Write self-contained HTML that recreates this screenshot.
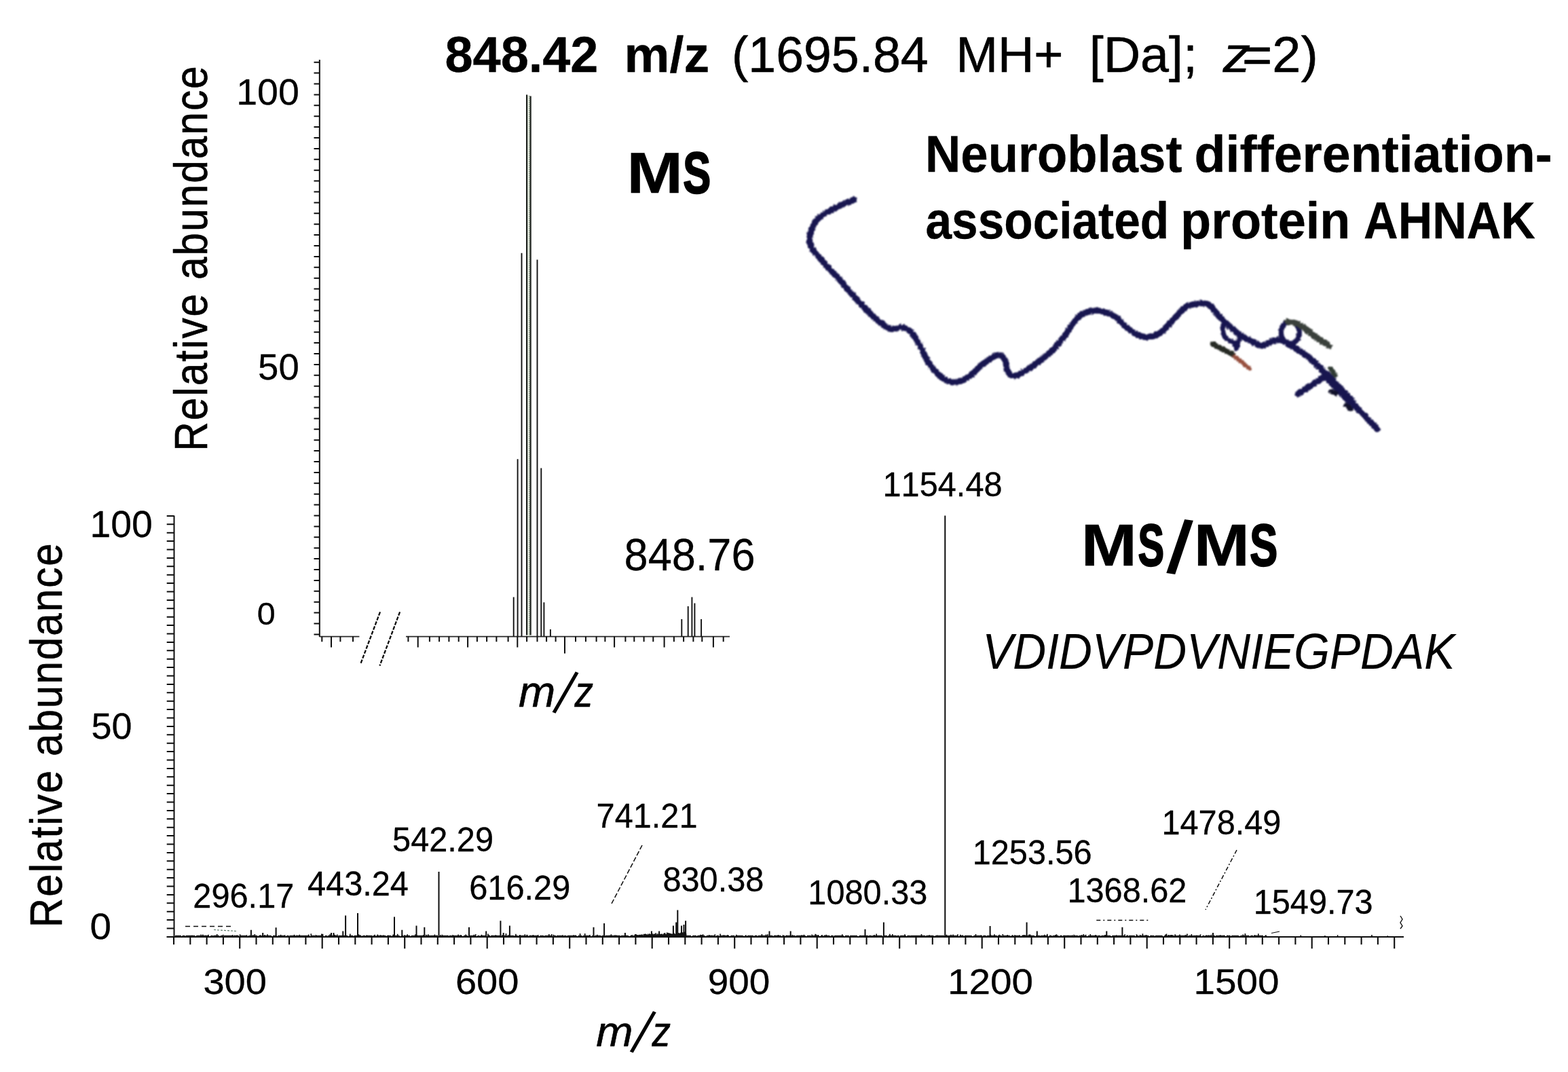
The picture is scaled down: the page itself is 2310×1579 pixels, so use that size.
<!DOCTYPE html>
<html lang="en">
<head>
<meta charset="utf-8">
<title>MS and MS/MS spectra of AHNAK peptide</title>
<style>
html,body{margin:0;padding:0;background:#fff;}
body{width:2310px;height:1579px;overflow:hidden;}
svg{display:block;}
svg text{font-family:"Liberation Sans", sans-serif;font-kerning:none;fill:#000;stroke:#000;stroke-linejoin:round;white-space:pre;}
</style>
</head>
<body>
<svg width="2310" height="1579" viewBox="0 0 2310 1579" role="img" aria-label="MS and MS/MS spectra of the AHNAK peptide VDIDVPDVNIEGPDAK">
<defs><filter id="soft" x="-5%" y="-5%" width="110%" height="110%" color-interpolation-filters="sRGB"><feTurbulence type="fractalNoise" baseFrequency="0.32" numOctaves="2" seed="7" result="n"/><feDisplacementMap in="SourceGraphic" in2="n" scale="4.5" xChannelSelector="R" yChannelSelector="G"/><feGaussianBlur stdDeviation="0.8"/></filter></defs>
<desc>848.42 m/z (1695.84 MH+ [Da]; z=2). MS inset: Relative abundance 100 50 0, m/z, 848.76. Neuroblast differentiation-associated protein AHNAK. MS/MS spectrum of VDIDVPDVNIEGPDAK: Relative abundance 100 50 0; m/z 300 600 900 1200 1500; peaks 296.17 443.24 542.29 616.29 741.21 830.38 1080.33 1154.48 1253.56 1368.62 1478.49 1549.73.</desc>
<rect width="2310" height="1579" fill="#fff"/>
<g class="ln" stroke="#0e0e0e" stroke-width="1.5" fill="none">
<path d="M470.8 88V938M462.5 91.7H470.8M462.5 107.6H470.8M462.5 123.5H470.8M462.5 139.4H470.8M462.5 155.3H470.8M462.5 171.2H470.8M462.5 187.1H470.8M462.5 203.0H470.8M462.5 218.9H470.8M462.5 234.8H470.8M462.5 250.7H470.8M462.5 266.6H470.8M462.5 282.5H470.8M462.5 298.4H470.8M462.5 314.3H470.8M462.5 330.2H470.8M462.5 346.1H470.8M462.5 362.0H470.8M462.5 377.9H470.8M462.5 393.8H470.8M462.5 409.7H470.8M462.5 425.6H470.8M462.5 441.5H470.8M462.5 457.4H470.8M462.5 473.3H470.8M462.5 489.2H470.8M462.5 505.1H470.8M462.5 521.0H470.8M462.5 536.9H470.8M462.5 552.8H470.8M462.5 568.7H470.8M462.5 584.6H470.8M462.5 600.5H470.8M462.5 616.4H470.8M462.5 632.3H470.8M462.5 648.2H470.8M462.5 664.1H470.8M462.5 680.0H470.8M462.5 695.9H470.8M462.5 711.8H470.8M462.5 727.7H470.8M462.5 743.6H470.8M462.5 759.5H470.8M462.5 775.4H470.8M462.5 791.3H470.8M462.5 807.2H470.8M462.5 823.1H470.8M462.5 839.0H470.8M462.5 854.9H470.8M462.5 870.8H470.8M462.5 886.7H470.8M462.5 902.6H470.8M462.5 918.5H470.8M462.5 934.4H470.8" stroke-width="2.00"/>
<path d="M470.7 937.6H529.4M598 937.6H1075" stroke-width="1.70" stroke="#2a2a2a"/>
<path d="M474.3 937.6V945.3M488.0 937.6V953.6M501.4 937.6V945.3M520.0 937.6V945.3M601.4 937.6V945.3M615.7 937.6V953.6M632.9 937.6V945.3M647.1 937.6V945.3M661.4 937.6V945.3M675.7 937.6V945.3M689.1 937.6V953.6M702.9 937.6V945.3M717.1 937.6V945.3M731.4 937.6V945.3M748.6 937.6V945.3M762.3 937.6V953.6M776.1 937.6V945.3M791.5 937.6V945.3M805.1 937.6V945.3M818.6 937.6V945.3M832.0 937.6V962.6M848.0 937.6V945.3M862.9 937.6V945.3M878.6 937.6V945.3M891.4 937.6V945.3M905.1 937.6V953.6M921.4 937.6V945.3M934.3 937.6V945.3M948.6 937.6V945.3M962.3 937.6V945.3M978.6 937.6V953.6M992.9 937.6V945.3M1007.1 937.6V945.3M1021.4 937.6V945.3M1034.3 937.6V945.3M1050.9 937.6V953.6M1065.7 937.6V945.3" stroke-width="2.00"/>
<path d="M560 901.4L530.9 978.6M589.1 901.4L559.4 980.6" stroke-width="2.30" stroke-dasharray="5.5 2"/>
<path d="M756.7 937.6V879.5M762.6 937.6V676.3M768.5 937.6V372.8M791.5 937.6V382.6M797.3 937.6V689.5M801.4 937.6V887.2M810.9 937.6V927.1M1004.3 937.6V912.0M1013.7 937.6V892.9M1019.4 937.6V879.4M1023.4 937.6V888.6M1033.1 937.6V912.0" stroke-width="1.90" stroke="#111"/>
<rect x="777" y="141" width="4" height="796" fill="#e9f0e4" stroke="none"/>
<path d="M779.6 937.6V141" stroke-width="1.20" stroke="#8fa08c" stroke-dasharray="1.5 1.5"/>
<path d="M776.1 935.6V139.5M781.6 935.6V141.5" stroke-width="2.20" stroke="#1c201c"/>
<path d="M256.5 759.5V1380.0M245.7 759.9H256.5M245.7 772.3H256.5M245.7 784.7H256.5M245.7 797.1H256.5M245.7 809.5H256.5M245.7 821.9H256.5M245.7 834.3H256.5M245.7 846.7H256.5M245.7 859.1H256.5M245.7 871.5H256.5M245.7 883.9H256.5M245.7 896.3H256.5M245.7 908.7H256.5M245.7 921.1H256.5M245.7 933.5H256.5M245.7 945.9H256.5M245.7 958.3H256.5M245.7 970.7H256.5M245.7 983.1H256.5M245.7 995.5H256.5M245.7 1007.9H256.5M245.7 1020.3H256.5M245.7 1032.7H256.5M245.7 1045.1H256.5M245.7 1057.5H256.5M245.7 1069.9H256.5M245.7 1082.3H256.5M245.7 1094.7H256.5M245.7 1107.1H256.5M245.7 1119.5H256.5M245.7 1131.9H256.5M245.7 1144.3H256.5M245.7 1156.7H256.5M245.7 1169.1H256.5M245.7 1181.5H256.5M245.7 1193.9H256.5M245.7 1206.3H256.5M245.7 1218.7H256.5M245.7 1231.1H256.5M245.7 1243.5H256.5M245.7 1255.9H256.5M245.7 1268.3H256.5M245.7 1280.7H256.5M245.7 1293.1H256.5M245.7 1305.5H256.5M245.7 1317.9H256.5M245.7 1330.3H256.5M245.7 1342.7H256.5M245.7 1355.1H256.5M245.7 1367.5H256.5M245.7 1379.9H256.5" stroke-width="2.00"/>
<path d="M245.7 1380.0H2068M256.0 1380.0V1391.3M280.3 1380.0V1391.3M304.6 1380.0V1391.3M328.9 1380.0V1391.3M353.2 1380.0V1397.2M377.5 1380.0V1391.3M401.8 1380.0V1391.3M426.1 1380.0V1391.3M450.4 1380.0V1391.3M474.7 1380.0V1397.2M499.0 1380.0V1391.3M523.3 1380.0V1391.3M547.6 1380.0V1391.3M571.9 1380.0V1391.3M596.2 1380.0V1397.2M620.5 1380.0V1391.3M644.8 1380.0V1391.3M669.1 1380.0V1391.3M693.4 1380.0V1391.3M717.7 1380.0V1397.2M742.0 1380.0V1391.3M766.3 1380.0V1391.3M790.6 1380.0V1391.3M814.9 1380.0V1391.3M839.2 1380.0V1397.2M863.5 1380.0V1391.3M887.8 1380.0V1391.3M912.1 1380.0V1391.3M936.4 1380.0V1391.3M960.7 1380.0V1397.2M985.0 1380.0V1391.3M1009.3 1380.0V1391.3M1033.6 1380.0V1391.3M1057.9 1380.0V1391.3M1082.2 1380.0V1397.2M1106.5 1380.0V1391.3M1130.8 1380.0V1391.3M1155.1 1380.0V1391.3M1179.4 1380.0V1391.3M1203.7 1380.0V1397.2M1228.0 1380.0V1391.3M1252.3 1380.0V1391.3M1276.6 1380.0V1391.3M1300.9 1380.0V1391.3M1325.2 1380.0V1397.2M1349.5 1380.0V1391.3M1373.8 1380.0V1391.3M1398.1 1380.0V1391.3M1422.4 1380.0V1391.3M1446.7 1380.0V1397.2M1471.0 1380.0V1391.3M1495.3 1380.0V1391.3M1519.6 1380.0V1391.3M1543.9 1380.0V1391.3M1568.2 1380.0V1397.2M1592.5 1380.0V1391.3M1616.8 1380.0V1391.3M1641.1 1380.0V1391.3M1665.4 1380.0V1391.3M1689.7 1380.0V1397.2M1714.0 1380.0V1391.3M1738.3 1380.0V1391.3M1762.6 1380.0V1391.3M1786.9 1380.0V1391.3M1811.2 1380.0V1397.2M1835.5 1380.0V1391.3M1859.8 1380.0V1391.3M1884.1 1380.0V1391.3M1908.4 1380.0V1391.3M1932.7 1380.0V1397.2M1957.0 1380.0V1391.3M1981.3 1380.0V1391.3M2005.6 1380.0V1391.3M2029.9 1380.0V1391.3M2054.2 1380.0V1397.2" stroke-width="2.10"/>
<path d="M258 1378.5H1866" stroke-width="1.60" stroke="#111" stroke-dasharray="9 1.5 4 1 14 2 6 1.2 11 2.5 3 1"/>
<path d="M369.9 1380.0V1369.7M387.2 1380.0V1374.0M406.6 1380.0V1366.2M488.0 1380.0V1374.0M491.5 1380.0V1374.0M505.3 1380.0V1371.4M509.1 1380.0V1348.5M527.0 1380.0V1345.0M581.0 1380.0V1350.6M592.3 1380.0V1369.7M613.5 1380.0V1363.6M625.3 1380.0V1365.8M646.5 1380.0V1284.0M691.0 1380.0V1365.8M716.2 1380.0V1371.4M737.4 1380.0V1356.3M741.7 1380.0V1374.0M750.9 1380.0V1363.6M874.5 1380.0V1365.8M890.1 1380.0V1360.1M920.9 1380.0V1374.0M959.9 1380.0V1371.4M971.1 1380.0V1371.4M991.9 1380.0V1363.6M996.2 1380.0V1358.4M998.3 1380.0V1340.6M1004.0 1380.0V1363.6M1007.5 1380.0V1361.9M1010.1 1380.0V1356.3M1133.5 1380.0V1371.4M1164.7 1380.0V1371.4M1274.5 1380.0V1368.8M1301.9 1380.0V1358.4M1392.3 1380.0V759.5M1458.6 1380.0V1364.1M1512.6 1380.0V1358.4M1527.8 1380.0V1371.4M1630.3 1380.0V1371.4M1653.4 1380.0V1365.8M1787.0 1380.0V1374.0" stroke-width="2.00" stroke="#0c0c0c"/>
<path d="M260.3 1380.0v-1.2M263.0 1380.0v-1.2M270.3 1380.0v-1.8M275.9 1380.0v-1.2M279.9 1380.0v-2.0M282.9 1380.0v-2.2M289.7 1380.0v-1.9M296.1 1380.0v-3.5M298.8 1380.0v-3.5M300.8 1380.0v-1.4M302.8 1380.0v-2.2M306.9 1380.0v-3.3M313.1 1380.0v-2.0M317.4 1380.0v-2.3M319.7 1380.0v-4.0M328.7 1380.0v-3.3M331.2 1380.0v-1.8M333.9 1380.0v-1.4M336.7 1380.0v-2.0M338.4 1380.0v-1.6M342.6 1380.0v-2.9M345.3 1380.0v-2.6M349.2 1380.0v-2.4M353.6 1380.0v-3.8M355.3 1380.0v-1.0M361.8 1380.0v-1.9M363.5 1380.0v-2.7M365.8 1380.0v-1.4M372.8 1380.0v-2.8M375.3 1380.0v-4.1M383.7 1380.0v-2.7M385.1 1380.0v-1.8M386.8 1380.0v-2.7M390.0 1380.0v-3.0M394.0 1380.0v-3.8M396.2 1380.0v-1.0M398.5 1380.0v-2.1M406.4 1380.0v-2.0M413.6 1380.0v-3.2M416.0 1380.0v-1.7M419.7 1380.0v-2.8M423.0 1380.0v-2.0M426.9 1380.0v-1.4M433.5 1380.0v-3.3M437.0 1380.0v-2.5M441.3 1380.0v-3.2M443.7 1380.0v-1.3M446.4 1380.0v-2.1M454.6 1380.0v-3.5M458.3 1380.0v-4.7M460.9 1380.0v-1.9M465.3 1380.0v-2.9M470.7 1380.0v-0.9M473.8 1380.0v-4.5M475.5 1380.0v-4.2M477.9 1380.0v-0.9M486.0 1380.0v-3.8M487.8 1380.0v-1.2M489.7 1380.0v-2.0M492.0 1380.0v-3.6M493.4 1380.0v-3.1M496.8 1380.0v-3.5M500.9 1380.0v-1.3M509.3 1380.0v-1.3M515.8 1380.0v-4.5M525.7 1380.0v-1.9M528.4 1380.0v-3.8M530.4 1380.0v-2.7M534.6 1380.0v-2.0M538.5 1380.0v-1.6M540.4 1380.0v-2.5M544.5 1380.0v-1.6M547.9 1380.0v-2.0M552.0 1380.0v-3.2M556.3 1380.0v-3.6M558.1 1380.0v-1.4M560.7 1380.0v-2.7M562.5 1380.0v-1.9M564.9 1380.0v-2.6M570.5 1380.0v-2.1M571.9 1380.0v-2.2M573.5 1380.0v-1.8M577.6 1380.0v-1.1M579.3 1380.0v-3.6M582.7 1380.0v-2.0M585.7 1380.0v-4.3M591.7 1380.0v-1.3M595.7 1380.0v-2.7M600.2 1380.0v-3.7M602.3 1380.0v-0.9M607.9 1380.0v-1.1M610.1 1380.0v-2.2M612.0 1380.0v-3.8M613.8 1380.0v-3.0M621.9 1380.0v-1.7M623.9 1380.0v-2.9M627.8 1380.0v-3.2M630.8 1380.0v-3.8M633.0 1380.0v-2.2M635.4 1380.0v-1.2M639.0 1380.0v-2.0M640.4 1380.0v-3.6M643.8 1380.0v-2.2M649.0 1380.0v-2.7M651.4 1380.0v-3.3M654.4 1380.0v-1.2M658.5 1380.0v-1.6M659.7 1380.0v-2.2M661.8 1380.0v-1.4M667.1 1380.0v-3.1M669.6 1380.0v-1.9M671.5 1380.0v-1.4M675.1 1380.0v-3.4M678.7 1380.0v-3.0M682.3 1380.0v-0.9M686.2 1380.0v-3.4M690.1 1380.0v-1.6M696.9 1380.0v-1.3M698.3 1380.0v-3.2M700.7 1380.0v-4.0M704.0 1380.0v-1.7M709.5 1380.0v-3.3M710.9 1380.0v-1.8M714.6 1380.0v-1.9M719.0 1380.0v-4.6M720.5 1380.0v-2.5M723.7 1380.0v-1.3M725.4 1380.0v-2.3M728.9 1380.0v-0.9M730.3 1380.0v-2.7M731.8 1380.0v-1.9M734.0 1380.0v-2.1M739.7 1380.0v-2.7M745.5 1380.0v-4.9M747.9 1380.0v-1.3M749.4 1380.0v-2.7M751.1 1380.0v-2.6M754.6 1380.0v-1.7M758.7 1380.0v-2.1M759.9 1380.0v-4.2M762.4 1380.0v-1.2M766.1 1380.0v-3.1M767.7 1380.0v-1.9M771.9 1380.0v-1.8M773.3 1380.0v-3.8M776.4 1380.0v-3.2M781.5 1380.0v-2.3M783.2 1380.0v-2.0M785.4 1380.0v-3.0M791.3 1380.0v-1.9M792.7 1380.0v-2.9M796.4 1380.0v-2.1M800.6 1380.0v-1.0M803.1 1380.0v-1.9M806.8 1380.0v-2.0M808.8 1380.0v-4.0M811.3 1380.0v-1.4M812.7 1380.0v-3.9M815.4 1380.0v-3.3M818.1 1380.0v-1.3M820.1 1380.0v-1.2M821.6 1380.0v-1.6M825.5 1380.0v-2.1M829.1 1380.0v-2.8M832.8 1380.0v-1.6M838.2 1380.0v-2.0M841.1 1380.0v-1.3M845.2 1380.0v-2.8M847.9 1380.0v-2.6M854.6 1380.0v-4.9M861.7 1380.0v-4.9M869.0 1380.0v-2.9M876.9 1380.0v-1.4M879.8 1380.0v-3.3M885.7 1380.0v-1.6M889.9 1380.0v-3.3M892.1 1380.0v-1.7M894.1 1380.0v-1.2M896.6 1380.0v-1.6M898.5 1380.0v-2.2M900.4 1380.0v-3.7M906.0 1380.0v-2.8M907.8 1380.0v-2.4M910.7 1380.0v-1.7M912.5 1380.0v-1.4M914.5 1380.0v-1.6M917.7 1380.0v-1.6M922.2 1380.0v-2.2M923.5 1380.0v-1.2M927.0 1380.0v-1.2M931.2 1380.0v-2.9M935.7 1380.0v-3.9M936.6 1380.0v-4.0M937.5 1380.0v-3.5M938.6 1380.0v-2.9M939.4 1380.0v-2.8M940.9 1380.0v-2.8M941.9 1380.0v-3.2M943.3 1380.0v-3.1M944.5 1380.0v-3.4M945.5 1380.0v-3.4M946.3 1380.0v-3.5M947.7 1380.0v-2.5M948.6 1380.0v-4.2M950.0 1380.0v-4.3M951.0 1380.0v-4.6M952.0 1380.0v-4.0M953.0 1380.0v-3.1M954.5 1380.0v-4.5M955.4 1380.0v-3.4M956.9 1380.0v-4.7M957.9 1380.0v-3.9M959.5 1380.0v-3.8M960.9 1380.0v-5.0M962.1 1380.0v-3.6M963.2 1380.0v-4.2M964.2 1380.0v-4.4M965.0 1380.0v-3.5M966.1 1380.0v-5.7M967.7 1380.0v-3.4M968.6 1380.0v-4.7M969.7 1380.0v-3.8M971.0 1380.0v-5.2M972.5 1380.0v-4.3M974.0 1380.0v-4.3M975.1 1380.0v-4.6M976.1 1380.0v-3.6M977.6 1380.0v-4.6M978.7 1380.0v-5.7M979.7 1380.0v-5.7M981.3 1380.0v-4.1M982.7 1380.0v-6.4M983.6 1380.0v-3.8M984.5 1380.0v-6.0M986.1 1380.0v-5.6M987.2 1380.0v-5.3M988.8 1380.0v-4.7M990.1 1380.0v-4.4M991.0 1380.0v-4.2M992.3 1380.0v-4.9M993.1 1380.0v-5.5M994.0 1380.0v-4.3M995.5 1380.0v-4.4M996.3 1380.0v-5.4M997.7 1380.0v-3.9M999.0 1380.0v-4.8M1000.1 1380.0v-5.9M1001.3 1380.0v-5.2M1002.8 1380.0v-6.2M1003.8 1380.0v-5.3M1004.6 1380.0v-6.3M1006.0 1380.0v-6.8M1007.2 1380.0v-3.8M1008.4 1380.0v-7.4M1009.3 1380.0v-5.8M1010.5 1380.0v-4.7M1014.5 1380.0v-1.5M1027.8 1380.0v-1.4M1031.9 1380.0v-3.2M1033.7 1380.0v-3.1M1035.6 1380.0v-3.7M1037.4 1380.0v-2.0M1039.4 1380.0v-1.2M1044.7 1380.0v-3.1M1047.7 1380.0v-2.3M1049.9 1380.0v-1.6M1053.3 1380.0v-3.8M1057.9 1380.0v-1.6M1061.1 1380.0v-4.6M1065.0 1380.0v-2.3M1066.6 1380.0v-2.7M1072.1 1380.0v-3.0M1079.2 1380.0v-0.9M1085.0 1380.0v-3.3M1088.9 1380.0v-1.4M1092.5 1380.0v-1.3M1094.8 1380.0v-1.7M1099.0 1380.0v-2.6M1101.7 1380.0v-2.1M1105.9 1380.0v-1.8M1109.2 1380.0v-1.5M1110.5 1380.0v-1.2M1113.8 1380.0v-2.3M1117.9 1380.0v-1.5M1122.4 1380.0v-3.9M1128.5 1380.0v-3.4M1130.9 1380.0v-3.8M1134.0 1380.0v-2.3M1135.5 1380.0v-1.4M1142.0 1380.0v-2.3M1146.5 1380.0v-2.9M1150.2 1380.0v-1.3M1153.4 1380.0v-2.8M1158.9 1380.0v-2.3M1161.9 1380.0v-1.6M1164.1 1380.0v-1.1M1167.3 1380.0v-3.1M1168.6 1380.0v-1.9M1175.3 1380.0v-2.0M1181.3 1380.0v-2.7M1184.4 1380.0v-3.3M1189.9 1380.0v-1.1M1194.3 1380.0v-1.3M1196.2 1380.0v-3.5M1197.9 1380.0v-1.6M1201.2 1380.0v-4.3M1202.4 1380.0v-3.4M1205.2 1380.0v-3.1M1209.6 1380.0v-1.8M1211.0 1380.0v-3.1M1215.2 1380.0v-2.4M1217.3 1380.0v-3.3M1221.5 1380.0v-1.9M1225.8 1380.0v-1.3M1228.7 1380.0v-1.1M1230.7 1380.0v-2.1M1234.3 1380.0v-2.1M1236.8 1380.0v-1.6M1240.8 1380.0v-3.8M1246.4 1380.0v-1.8M1248.6 1380.0v-1.6M1251.7 1380.0v-1.0M1254.8 1380.0v-1.4M1256.1 1380.0v-1.4M1260.8 1380.0v-2.1M1268.8 1380.0v-2.3M1278.3 1380.0v-2.1M1280.0 1380.0v-1.5M1282.3 1380.0v-1.5M1284.3 1380.0v-1.6M1288.0 1380.0v-3.0M1291.2 1380.0v-4.6M1299.3 1380.0v-1.9M1303.2 1380.0v-1.7M1304.4 1380.0v-1.5M1310.9 1380.0v-4.3M1314.8 1380.0v-4.0M1319.2 1380.0v-2.2M1320.9 1380.0v-2.1M1322.9 1380.0v-1.0M1333.0 1380.0v-3.7M1340.5 1380.0v-2.1M1342.6 1380.0v-1.2M1346.7 1380.0v-2.1M1350.6 1380.0v-1.6M1353.3 1380.0v-2.1M1355.9 1380.0v-2.2M1357.5 1380.0v-4.1M1361.0 1380.0v-1.5M1364.7 1380.0v-1.4M1369.1 1380.0v-2.7M1371.5 1380.0v-1.5M1376.7 1380.0v-1.6M1381.1 1380.0v-2.4M1383.8 1380.0v-1.3M1388.0 1380.0v-1.8M1394.5 1380.0v-3.3M1397.3 1380.0v-2.1M1399.0 1380.0v-2.1M1401.0 1380.0v-3.3M1404.1 1380.0v-3.6M1407.5 1380.0v-1.9M1410.9 1380.0v-3.7M1414.9 1380.0v-3.3M1418.2 1380.0v-2.6M1423.5 1380.0v-1.6M1431.6 1380.0v-1.4M1436.0 1380.0v-1.7M1437.5 1380.0v-3.9M1445.0 1380.0v-2.4M1449.3 1380.0v-2.2M1459.4 1380.0v-3.2M1462.8 1380.0v-1.6M1465.0 1380.0v-3.7M1468.0 1380.0v-2.2M1472.3 1380.0v-3.2M1477.3 1380.0v-4.1M1480.8 1380.0v-1.2M1484.2 1380.0v-2.9M1486.3 1380.0v-1.5M1489.1 1380.0v-1.5M1491.5 1380.0v-2.7M1495.0 1380.0v-2.7M1498.5 1380.0v-1.9M1501.9 1380.0v-2.5M1506.9 1380.0v-2.6M1508.3 1380.0v-3.0M1510.0 1380.0v-2.7M1512.6 1380.0v-1.8M1514.2 1380.0v-1.5M1516.0 1380.0v-3.5M1517.7 1380.0v-3.5M1523.6 1380.0v-1.7M1531.8 1380.0v-2.0M1538.8 1380.0v-3.3M1542.8 1380.0v-4.2M1546.7 1380.0v-2.4M1555.0 1380.0v-3.0M1556.5 1380.0v-3.8M1563.2 1380.0v-1.2M1567.3 1380.0v-2.3M1571.0 1380.0v-1.5M1573.4 1380.0v-2.2M1577.3 1380.0v-1.9M1580.1 1380.0v-2.6M1582.2 1380.0v-3.3M1587.8 1380.0v-1.7M1593.6 1380.0v-3.1M1594.9 1380.0v-1.6M1596.3 1380.0v-4.1M1599.6 1380.0v-3.2M1606.3 1380.0v-4.1M1608.1 1380.0v-1.6M1614.0 1380.0v-3.1M1615.7 1380.0v-2.2M1617.8 1380.0v-1.7M1627.9 1380.0v-2.9M1629.1 1380.0v-3.1M1633.6 1380.0v-1.3M1638.9 1380.0v-1.4M1644.8 1380.0v-2.7M1648.3 1380.0v-1.7M1655.6 1380.0v-1.4M1657.1 1380.0v-3.7M1661.4 1380.0v-2.6M1666.3 1380.0v-1.6M1674.5 1380.0v-3.8M1679.6 1380.0v-2.9M1683.4 1380.0v-4.8M1687.2 1380.0v-2.2M1688.6 1380.0v-3.1M1695.4 1380.0v-2.2M1699.8 1380.0v-1.6M1703.2 1380.0v-2.0M1707.5 1380.0v-1.3M1713.0 1380.0v-1.1M1717.0 1380.0v-3.5M1718.5 1380.0v-4.5M1720.4 1380.0v-1.5M1721.8 1380.0v-2.9M1723.6 1380.0v-2.2M1724.9 1380.0v-2.9M1726.4 1380.0v-3.0M1728.3 1380.0v-2.6M1731.2 1380.0v-3.8M1733.1 1380.0v-1.4M1734.9 1380.0v-2.0M1738.0 1380.0v-3.5M1742.0 1380.0v-1.2M1746.5 1380.0v-3.1M1748.9 1380.0v-4.5M1755.4 1380.0v-4.0M1757.3 1380.0v-2.0M1761.7 1380.0v-1.1M1763.0 1380.0v-2.2M1768.5 1380.0v-3.8M1777.3 1380.0v-2.6M1780.6 1380.0v-2.4M1784.6 1380.0v-3.2M1789.1 1380.0v-1.4M1793.4 1380.0v-1.9M1797.7 1380.0v-2.8M1802.9 1380.0v-2.2M1807.9 1380.0v-2.3M1810.7 1380.0v-1.2M1826.8 1380.0v-1.5M1831.2 1380.0v-3.6M1834.4 1380.0v-4.9M1836.7 1380.0v-1.7M1840.0 1380.0v-1.1M1843.6 1380.0v-1.4M1846.6 1380.0v-1.2M1848.3 1380.0v-2.8M1850.0 1380.0v-2.2M1852.2 1380.0v-1.1M1853.8 1380.0v-4.7M1859.2 1380.0v-1.8M1865.0 1380.0v-2.4M1916.3 1380.0v-2.5M1951.9 1380.0v-2.0M1970.6 1380.0v-2.7M2021.0 1380.0v-3.0M2044.3 1380.0v-1.7" stroke-width="1.70" stroke="#111"/>
<path d="M946 1245L901 1331" stroke-dasharray="7 3"/>
<path d="M1822 1252L1776 1340" stroke-dasharray="6 3 2 3"/>
<path d="M1615.3 1355.5H1695" stroke-width="1.30" stroke-dasharray="6 4 2 4"/>
<path d="M273 1364.5H341" stroke-width="1.30" stroke-dasharray="7 5"/>
<path d="M315 1369.5L348 1371.5" stroke-width="1.20" stroke="#5d7a6a" stroke-dasharray="3 2"/>
<path d="M1873 1374.5L1885 1372" stroke-width="1.20"/>
<path d="M2063 1349l3 5l-3 5l3 5l-3 4" stroke-width="1.40"/>
</g>
<g class="protein" filter="url(#soft)">
<path d="M1258.5 293.8C1252.9 296.3 1234.2 303.9 1225.0 309.0C1215.8 314.1 1208.5 318.0 1203.3 324.1C1198.0 330.2 1195.0 339.3 1193.5 345.8C1192.0 352.3 1191.9 356.9 1194.6 363.0C1197.3 369.1 1202.9 374.7 1209.8 382.6C1216.7 390.6 1226.8 400.6 1235.8 410.7C1244.8 420.8 1254.9 433.5 1263.9 443.2C1272.9 452.9 1282.0 462.2 1289.9 469.1C1297.8 476.0 1305.0 482.1 1311.5 484.3C1318.0 486.5 1323.4 481.0 1328.8 482.1C1334.2 483.2 1339.3 485.8 1344.0 490.8C1348.7 495.9 1353.0 505.2 1357.0 512.4C1361.0 519.6 1362.8 526.9 1367.8 534.1C1372.8 541.3 1381.2 550.8 1387.3 555.7C1393.4 560.6 1398.1 563.3 1404.6 563.3C1411.1 563.3 1419.0 560.2 1426.2 555.7C1433.4 551.2 1440.7 541.6 1447.9 536.2C1455.1 530.8 1464.1 524.3 1469.5 523.2C1474.9 522.1 1477.8 525.7 1480.3 529.7C1482.8 533.7 1482.2 543.0 1484.7 547.0C1487.2 551.0 1489.7 554.6 1495.5 553.5C1501.3 552.4 1510.3 546.7 1519.3 540.6C1528.3 534.5 1540.9 525.1 1549.6 516.8C1558.3 508.5 1564.8 499.1 1571.3 490.8C1577.8 482.5 1582.8 472.4 1588.6 467.0C1594.4 461.6 1600.1 459.8 1605.9 458.3C1611.7 456.9 1617.0 456.8 1623.2 458.3C1629.4 459.8 1636.3 462.4 1643.3 467.1C1650.2 471.8 1657.7 481.7 1664.9 486.6C1672.1 491.5 1679.4 495.6 1686.6 496.3C1693.8 497.0 1701.0 495.4 1708.2 490.9C1715.4 486.4 1723.4 475.8 1729.9 469.3C1736.4 462.8 1742.2 455.4 1747.2 451.9C1752.2 448.4 1756.0 449.0 1760.0 448.1C1764.0 447.2 1767.6 446.6 1771.1 446.7C1774.6 446.8 1777.7 446.7 1780.9 448.8C1784.2 450.9 1787.1 455.4 1790.6 459.2C1794.1 463.0 1797.6 467.6 1801.8 471.8C1806.0 476.0 1811.1 480.4 1815.7 484.3C1820.3 488.2 1824.9 492.5 1829.6 495.5C1834.2 498.5 1838.9 500.1 1843.6 502.4C1848.2 504.7 1853.3 508.9 1857.5 509.4C1861.7 509.9 1864.9 506.6 1868.6 505.2C1872.3 503.8 1876.1 501.5 1879.8 501.0C1883.5 500.5 1886.7 500.8 1890.9 502.4C1895.1 504.0 1899.9 507.8 1904.8 510.8C1909.7 513.8 1915.3 517.0 1920.2 520.5C1925.1 524.0 1929.9 528.0 1934.1 531.7C1938.3 535.4 1941.2 538.9 1945.2 542.8C1949.2 546.7 1953.8 550.9 1957.8 555.3C1961.8 559.7 1964.7 564.6 1968.9 569.3C1973.1 573.9 1978.2 578.3 1982.9 583.2C1987.6 588.1 1992.2 593.6 1996.8 598.5C2001.4 603.4 2005.4 606.9 2010.7 612.5C2016.0 618.1 2025.8 628.8 2028.8 632.0" stroke="#17154f" stroke-width="9" fill="none" stroke-linecap="round" stroke-linejoin="round"/>
<path d="M1803.2 474.6C1800.5 482 1800.8 490 1804.6 496.9L1823 509M1826.9 492.7L1821.3 513.6" stroke="#17154f" stroke-width="7" fill="none" stroke-linecap="round" stroke-linejoin="round"/>
<path d="M1786.5 506.6L1815.7 521.9" stroke="#262a24" stroke-width="7.5" fill="none" stroke-linecap="round"/>
<path d="M1818.5 524.7L1840.8 542.8" stroke="#97503f" stroke-width="6" fill="none" stroke-linecap="round"/>
<ellipse cx="1900.7" cy="489.9" rx="13.5" ry="16" stroke="#17154f" stroke-width="7.5" fill="none"/>
<path d="M1897 473.5C1912 475 1922 482 1930 490C1940 498 1950 504 1958 509.4" stroke="#3a403b" stroke-width="9" fill="none" stroke-linecap="round"/>
<path d="M1911.8 580.4L1955 552.6" stroke="#17154f" stroke-width="9" fill="none" stroke-linecap="round"/>
<path d="M1960 543L1967 553" stroke="#2f3a33" stroke-width="7" fill="none" stroke-linecap="round"/>
<path d="M1953 552L1970 570L1990 591" stroke="#17154f" stroke-width="13" fill="none" stroke-linecap="round" stroke-linejoin="round"/>
<path d="M1961 576L1968 580M1983 597L1990 602" stroke="#11112a" stroke-width="7" fill="none" stroke-linecap="round"/>
</g>
<g class="labels">
<text transform="matrix(0.3694 0 0.0000 0.3718 655.48 106.36)" font-size="200" font-weight="bold" stroke-width="0.94">848.42</text>
<text transform="matrix(0.3770 0 0.0000 0.3718 919.40 106.36)" font-size="200" font-weight="bold" stroke-width="0.93">m/z</text>
<text transform="matrix(0.3671 0 0.0000 0.3718 1077.89 106.36)" font-size="200" stroke-width="1.62">(1695.84</text>
<text transform="matrix(0.3697 0 0.0000 0.3718 1408.39 106.36)" font-size="200" stroke-width="1.62">MH+</text>
<text transform="matrix(0.3769 0 0.0000 0.3718 1604.72 106.36)" font-size="200" stroke-width="1.60">[Da];</text>
<text transform="matrix(0.3718 0 0 0.3718 0 106.36)" font-size="200" stroke-width="1.61"><tspan x="4845.8" y="0" textLength="108.7" lengthAdjust="spacingAndGlyphs" font-style="italic">z</tspan><tspan x="4922.2" y="0" textLength="300.1" lengthAdjust="spacingAndGlyphs">=2)</tspan></text>
<text transform="matrix(0.2778 0 0.0000 0.2648 348.13 153.67)" font-size="200" stroke-width="1.11">100</text>
<text transform="matrix(0.2725 0 0.0000 0.2704 380.12 558.76)" font-size="200" stroke-width="1.11">50</text>
<text transform="matrix(0.2421 0 0.0000 0.2296 378.86 919.84)" font-size="200" stroke-width="1.27">0</text>
<text transform="matrix(0.3155 0 0.0000 0.3331 919.56 840.23)" font-size="200" stroke-width="0.77">848.76</text>
<text transform="matrix(0.3264 0 0 0.3264 0 1041.30)" font-size="200" stroke-width="1.84"><tspan x="2340.6" y="0" textLength="166.1" lengthAdjust="spacingAndGlyphs" font-style="italic">m</tspan><tspan x="2504.0" y="24.3" font-size="298.1" stroke-width="0" rotate="16" textLength="54.7" lengthAdjust="spacingAndGlyphs" font-style="italic">/</tspan><tspan x="2593.6" y="0" textLength="84.4" lengthAdjust="spacingAndGlyphs" font-style="italic">z</tspan></text>
<text transform="matrix(0 -0.3020 0.3381 0 304.72 664.83)" font-size="200" letter-spacing="6.54" stroke-width="1.88">Relative abundance</text>
<text transform="matrix(0.2768 0 0.0000 0.2761 132.45 790.75)" font-size="200" stroke-width="1.09">100</text>
<text transform="matrix(0.2696 0 0.0000 0.2697 134.44 1087.96)" font-size="200" stroke-width="1.11">50</text>
<text transform="matrix(0.2832 0 0.0000 0.2711 132.53 1383.36)" font-size="200" stroke-width="1.08">0</text>
<text transform="matrix(0.2802 0 0.0000 0.2613 299.46 1464.28)" font-size="200" stroke-width="1.11">300</text>
<text transform="matrix(0.2804 0 0.0000 0.2613 670.90 1464.28)" font-size="200" stroke-width="1.11">600</text>
<text transform="matrix(0.2748 0 0.0000 0.2613 1042.73 1464.28)" font-size="200" stroke-width="1.12">900</text>
<text transform="matrix(0.2834 0 0.0000 0.2613 1395.95 1464.28)" font-size="200" stroke-width="1.10">1200</text>
<text transform="matrix(0.2834 0 0.0000 0.2613 1758.45 1464.28)" font-size="200" stroke-width="1.10">1500</text>
<text transform="matrix(0.3160 0 0 0.3160 0 1541.40)" font-size="200" stroke-width="1.90"><tspan x="2779.4" y="0" textLength="171.9" lengthAdjust="spacingAndGlyphs" font-style="italic">m</tspan><tspan x="2947.7" y="24.8" font-size="307.9" stroke-width="0" rotate="16" textLength="56.5" lengthAdjust="spacingAndGlyphs" font-style="italic">/</tspan><tspan x="3039.7" y="0" textLength="87.2" lengthAdjust="spacingAndGlyphs" font-style="italic">z</tspan></text>
<text transform="matrix(0 -0.3013 0.3347 0 91.33 1366.22)" font-size="200" letter-spacing="6.54" stroke-width="1.89">Relative abundance</text>
<text transform="matrix(0.2435 0 0.0000 0.2484 284.37 1337.10)" font-size="200" stroke-width="1.22">296.17</text>
<text transform="matrix(0.2435 0 0.0000 0.2484 452.98 1318.60)" font-size="200" stroke-width="1.22">443.24</text>
<text transform="matrix(0.2435 0 0.0000 0.2484 578.05 1254.00)" font-size="200" stroke-width="1.22">542.29</text>
<text transform="matrix(0.2435 0 0.0000 0.2484 691.27 1325.00)" font-size="200" stroke-width="1.22">616.29</text>
<text transform="matrix(0.2435 0 0.0000 0.2484 878.57 1218.50)" font-size="200" stroke-width="1.22">741.21</text>
<text transform="matrix(0.2435 0 0.0000 0.2484 976.41 1312.50)" font-size="200" stroke-width="1.22">830.38</text>
<text transform="matrix(0.2435 0 0.0000 0.2484 1190.34 1332.20)" font-size="200" stroke-width="1.22">1080.33</text>
<text transform="matrix(0.2435 0 0.0000 0.2484 1300.54 730.60)" font-size="200" stroke-width="1.22">1154.48</text>
<text transform="matrix(0.2435 0 0.0000 0.2484 1432.64 1272.50)" font-size="200" stroke-width="1.22">1253.56</text>
<text transform="matrix(0.2435 0 0.0000 0.2484 1572.38 1329.00)" font-size="200" stroke-width="1.22">1368.62</text>
<text transform="matrix(0.2435 0 0.0000 0.2484 1711.38 1228.50)" font-size="200" stroke-width="1.22">1478.49</text>
<text transform="matrix(0.2435 0 0.0000 0.2484 1846.64 1345.80)" font-size="200" stroke-width="1.22">1549.73</text>
<text transform="matrix(0.4304 0 0 0.4304 0 284.20)" font-size="200" stroke-width="0.81"><tspan x="2144.9" y="0" textLength="192.7" lengthAdjust="spacingAndGlyphs" font-weight="bold">M</tspan><tspan x="2338.2" y="0" textLength="95.0" lengthAdjust="spacingAndGlyphs" font-weight="bold" stroke-width="5.58">S</tspan></text>
<text transform="matrix(0.4341 0 0 0.4341 0 832.80)" font-size="200" stroke-width="0.81"><tspan x="3668.3" y="0" textLength="190.0" lengthAdjust="spacingAndGlyphs" font-weight="bold">M</tspan><tspan x="3861.8" y="0" textLength="88.9" lengthAdjust="spacingAndGlyphs" font-weight="bold" stroke-width="5.53">S</tspan><tspan x="3956.3" y="20.6" font-size="253.7" stroke-width="0" rotate="8" font-weight="bold">/</tspan><tspan x="4051.2" y="0" textLength="190.0" lengthAdjust="spacingAndGlyphs" font-weight="bold">M</tspan><tspan x="4241.3" y="0" textLength="94.3" lengthAdjust="spacingAndGlyphs" font-weight="bold" stroke-width="5.53">S</tspan></text>
<text transform="matrix(0.3624 0 0.0000 0.3841 1362.99 252.70)" font-size="200" font-weight="bold" stroke-width="0.94">Neuroblast</text>
<text transform="matrix(0.3768 0 0.0000 0.3841 1759.49 252.70)" font-size="200" font-weight="bold" stroke-width="0.92">differentiation-</text>
<text transform="matrix(0.3470 0 0.0000 0.3841 1363.52 351.40)" font-size="200" font-weight="bold" stroke-width="0.96">associated</text>
<text transform="matrix(0.3696 0 0.0000 0.3841 1738.99 351.40)" font-size="200" font-weight="bold" stroke-width="0.93">protein</text>
<text transform="matrix(0.3502 0 0.0000 0.3841 2009.05 351.40)" font-size="200" font-weight="bold" stroke-width="0.95">AHNAK</text>
<text transform="matrix(0.3386 0 0.0000 0.3704 1447.14 985.36)" font-size="200" font-style="italic" stroke-width="0.42">VDIDVPDVNIEGPDAK</text>
</g>
</svg>
</body>
</html>
